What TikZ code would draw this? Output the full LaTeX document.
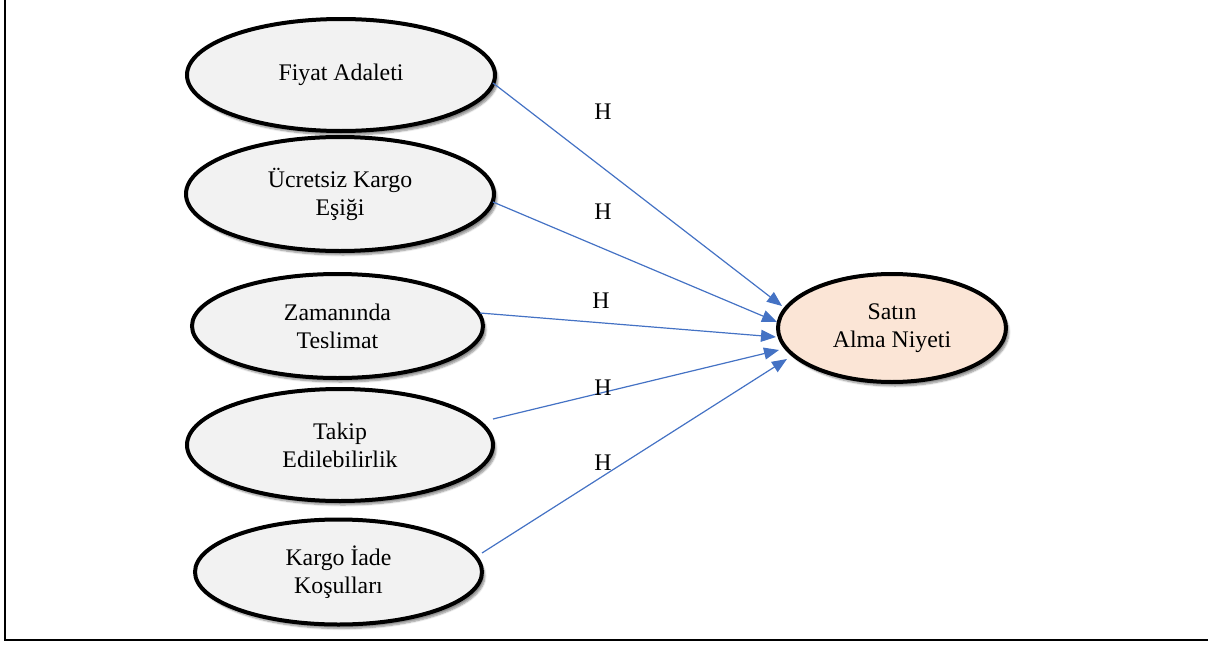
\documentclass[tikz,border=0pt]{standalone}
\usepackage{fontspec}
\setmainfont{Liberation Serif}
\usetikzlibrary{arrows.meta,shapes.geometric,shadows.blur}
\definecolor{nodegray}{RGB}{242,242,242}
\definecolor{peach}{RGB}{251,229,214}
\definecolor{arrblue}{RGB}{68,114,196}
\begin{document}
\begin{tikzpicture}[x=1pt,y=-1pt,
  lat/.style={ellipse, draw=black, line width=4pt, fill=nodegray, align=center, inner sep=0pt,
    font=\fontsize{23.8}{28}\selectfont,
    blur shadow={shadow xshift=3pt, shadow yshift=-4pt, shadow blur steps=6, shadow opacity=45}},
  arr/.style={draw=arrblue, line width=1.2pt, -{Triangle[length=15pt,width=12pt]}},
  hlab/.style={font=\fontsize{23.8}{28}\selectfont, inner sep=0pt}]
\useasboundingbox (0,0) rectangle (1208,645);
\draw[line width=2pt] (5,0) -- (5,640) -- (1208,640);

\node[lat, minimum width=308pt, minimum height=112pt] (fa) at (341,75) {Fiyat Adaleti};
\node[lat, minimum width=308pt, minimum height=114pt] (uk) at (340,194) {Ücretsiz Kargo\\Eşiği};
\node[lat, minimum width=291pt, minimum height=104pt] (zt) at (337.5,326) {Zamanında\\Teslimat};
\node[lat, minimum width=306pt, minimum height=112pt] (te) at (340,445) {Takip\\Edilebilirlik};
\node[lat, minimum width=287pt, minimum height=105pt] (ki) at (338.5,572) {Kargo İade\\Koşulları};
\node[lat, fill=peach, minimum width=228pt, minimum height=108pt] (sa) at (892,328) {Satın\\Alma Niyeti};

\draw[arr] ([shift={(152,8)}]fa.center) -- ([shift={(-110,-22)}]sa.center);
\draw[arr] ([shift={(153,8)}]uk.center) -- ([shift={(-115,-6)}]sa.center);
\draw[arr] ([shift={(142.5,-13)}]zt.center) -- ([shift={(-116,9)}]sa.center);
\draw[arr] ([shift={(153,-26)}]te.center) -- ([shift={(-113,22)}]sa.center);
\draw[arr] ([shift={(143.5,-19)}]ki.center) -- ([shift={(-105,31)}]sa.center);

\node[hlab] (h1) at (603,112) {H};
\node[hlab] (h2) at (603,212) {H};
\node[hlab] (h3) at (601,301) {H};
\node[hlab] (h4) at (603,388) {H};
\node[hlab] (h5) at (603,463) {H};
\end{tikzpicture}
\end{document}
